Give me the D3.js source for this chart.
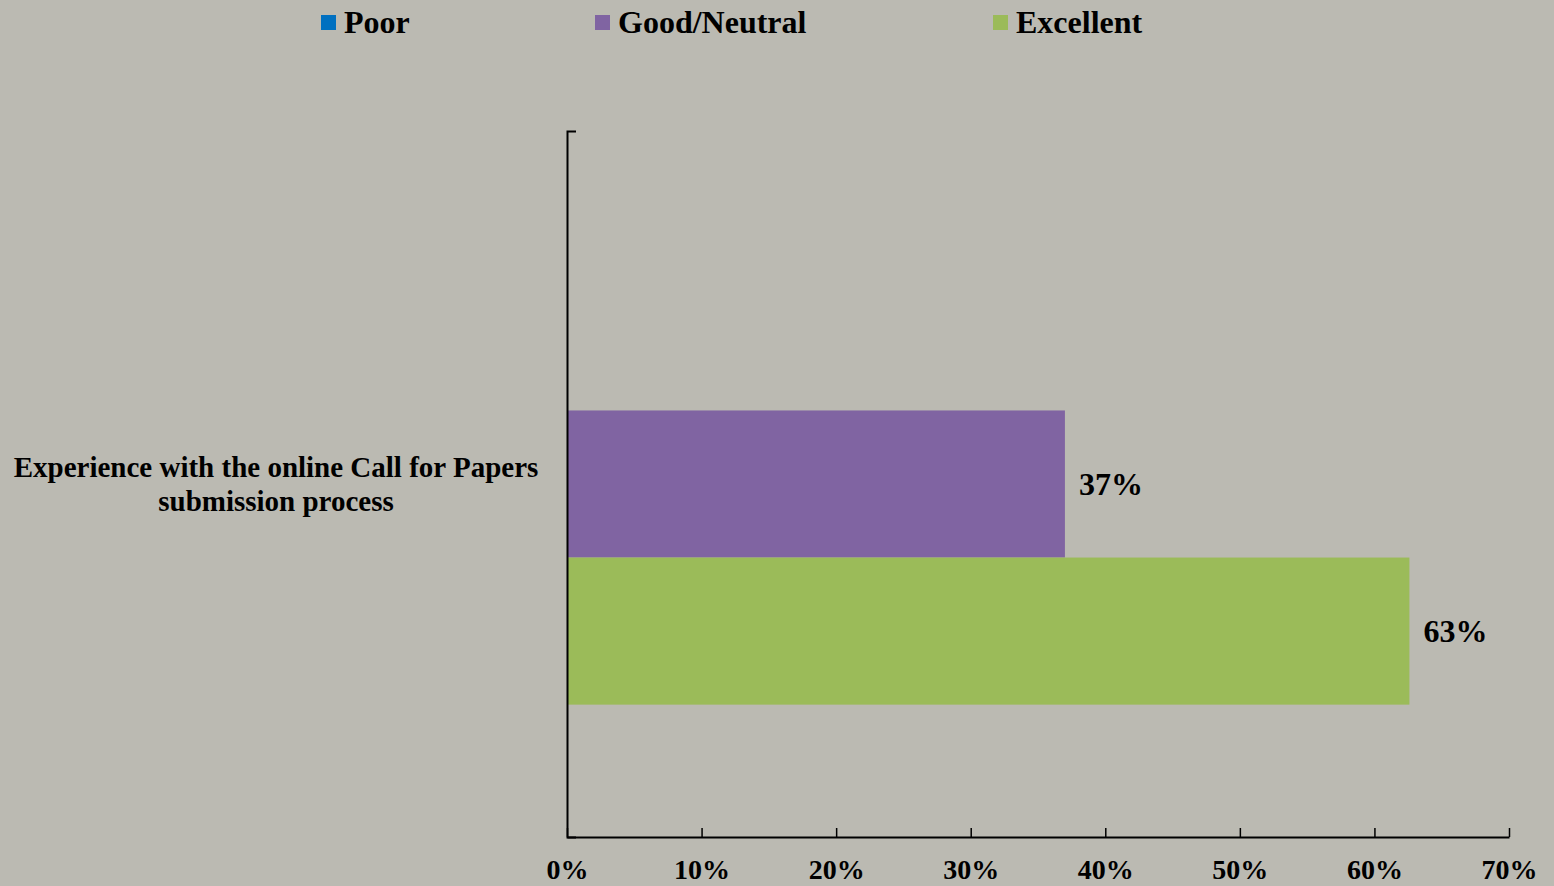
<!DOCTYPE html>
<html>
<head>
<meta charset="utf-8">
<script src="https://cdn.jsdelivr.net/npm/d3@7"></script>
<style>
  html, body { margin: 0; padding: 0; background: #bbbab2; }
  svg { display: block; font-family: "Liberation Serif", "Times New Roman", serif; font-weight: bold; }
</style>
</head>
<body>
<svg id="chart" width="1554" height="886"></svg>
<script>
const categories = ['Experience with the online Call for Papers submission process'];
const categoryLines = [['Experience with the online Call for Papers', 'submission process']];
const seriesNames = ['Poor', 'Good/Neutral', 'Excellent'];
const seriesColors = ['#0070c0', '#8064a2', '#9bbb59'];
const poorValues = [0];
const goodValues = [0.37];
const excellentValues = [0.626];
const xTicks = [0, 0.1, 0.2, 0.3, 0.4, 0.5, 0.6, 0.7];

const seriesValues = [poorValues, goodValues, excellentValues];

const m = { t: 131, r: 45, b: 49, l: 567 };
const W = 1554, H = 886;
const w = W - m.l - m.r, h = H - m.t - m.b;

const svg = d3.select('#chart');
const g = svg.append('g').attr('transform', `translate(${m.l},${m.t})`);

const x = d3.scaleLinear().domain([0, 0.7]).range([0, w]);
const y = d3.scaleBand().domain(categories).range([0, h]).paddingInner(0).paddingOuter(0);
const inner = d3.scaleBand().domain(seriesNames).range([0, y.bandwidth()]).paddingOuter(0.9).paddingInner(0);

// bars
categories.forEach((c, ci) => {
  const grp = g.append('g').attr('transform', `translate(0,${y(c)})`);
  seriesNames.forEach((s, si) => {
    const v = seriesValues[si][ci];
    if (v > 0) {
      grp.append('rect')
          .attr('x', x(0))
          .attr('y', inner(s))
          .attr('width', x(v) - x(0))
          .attr('height', inner.bandwidth())
          .attr('fill', seriesColors[si]);
      grp.append('text')
          .attr('x', x(v) + 14)
          .attr('y', inner(s) + inner.bandwidth() / 2)
          .attr('dy', '0.35em')
          .style('font-size', '32px')
          .text(d3.format('.0%')(v));
    }
  });
});

// x axis
const xAxis = g.append('g')
    .attr('transform', `translate(0,${h})`)
    .call(d3.axisBottom(x).tickValues(xTicks).tickFormat(d3.format('.0%'))
      .tickSizeInner(-9).tickSizeOuter(0).tickPadding(22));
xAxis.select('.domain').attr('stroke', '#000').attr('stroke-width', 2);
xAxis.selectAll('.tick line').attr('stroke', '#000').attr('stroke-width', 1.5);
xAxis.selectAll('.tick text')
    .style('font-size', '28px')
    .style('font-family', '"Liberation Serif", serif')
    .style('font-weight', 'bold')
    .attr('fill', '#000');

// y axis
const yAxis = g.append('g')
    .call(d3.axisLeft(y).tickValues([]).tickSizeOuter(-9));
yAxis.select('.domain').attr('stroke', '#000').attr('stroke-width', 2).attr('fill', 'none');

// category labels
categories.forEach((c, ci) => {
  const t = svg.append('text')
      .attr('x', 276)
      .attr('y', m.t + y(c) + y.bandwidth() / 2 - 17)
      .attr('text-anchor', 'middle')
      .style('font-size', '29px');
  categoryLines[ci].forEach((line, li) => {
    t.append('tspan').attr('x', 276).attr('dy', li === 0 ? '0.35em' : 34).text(line);
  });
});

// legend
const legendX = [321, 595, 993];
const legend = svg.append('g');
seriesNames.forEach((s, i) => {
  legend.append('rect')
      .attr('x', legendX[i]).attr('y', 15)
      .attr('width', 15).attr('height', 15)
      .attr('fill', seriesColors[i]);
  legend.append('text')
      .attr('x', legendX[i] + 23).attr('y', 33)
      .style('font-size', '32px')
      .text(s);
});
</script>
</body>
</html>
